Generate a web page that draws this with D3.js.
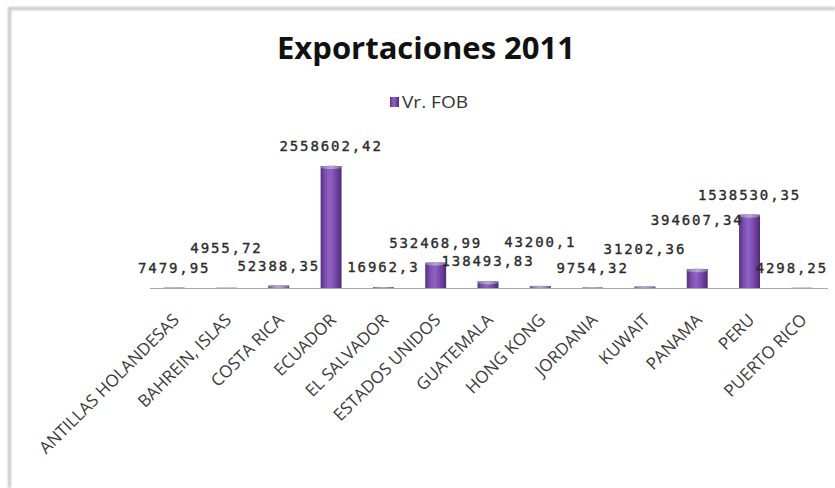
<!DOCTYPE html>
<html>
<head>
<meta charset="utf-8">
<script src="https://cdn.jsdelivr.net/npm/d3@7/dist/d3.min.js"></script>
<style>
  html, body { margin: 0; padding: 0; background: #ffffff; overflow: hidden; }
  svg { display: block; }
</style>
</head>
<body>
<svg id="chart" width="835" height="488"></svg>
<script>
// Export values (FOB) by destination country, 2011
const countries = [
  "ANTILLAS HOLANDESAS", "BAHREIN, ISLAS", "COSTA RICA", "ECUADOR",
  "EL SALVADOR", "ESTADOS UNIDOS", "GUATEMALA", "HONG KONG",
  "JORDANIA", "KUWAIT", "PANAMA", "PERU", "PUERTO RICO"
];
const fobValues = [
  7479.95, 4955.72, 52388.35, 2558602.42,
  16962.3, 532468.99, 138493.83, 43200.1,
  9754.32, 31202.36, 394607.34, 1538530.35, 4298.25
];
const valueLabels = [
  "7479,95", "4955,72", "52388,35", "2558602,42",
  "16962,3", "532468,99", "138493,83", "43200,1",
  "9754,32", "31202,36", "394607,34", "1538530,35", "4298,25"
];
const seriesName = "Vr. FOB";
const chartTitle = "Exportaciones 2011";
const yMax = 3000000;

// Labels that were moved by hand so they do not collide with neighbours
const labelLift = { "BAHREIN, ISLAS": 20, "HONG KONG": 24, "KUWAIT": 18, "PANAMA": 29 };
const labelShift = { "PUERTO RICO": -10 };

const svg = d3.select("#chart");
const defs = svg.append("defs");

// Soft frame edge along the top and left of the chart area
const blur = defs.append("filter").attr("id", "soft")
  .attr("filterUnits", "userSpaceOnUse")
  .attr("x", 0).attr("y", 0).attr("width", 835).attr("height", 488);
blur.append("feGaussianBlur").attr("stdDeviation", 1.1);

svg.append("path")
  .attr("d", "M9.5,488V8.5H835")
  .attr("fill", "none").attr("stroke", "#c6c6c6").attr("stroke-width", 3)
  .attr("filter", "url(#soft)");

// Cylinder-like shading for the columns
const grad = defs.append("linearGradient").attr("id", "barFill")
  .attr("x1", "0%").attr("x2", "100%").attr("y1", "0%").attr("y2", "0%");
[["0%", "#56307f"], ["22%", "#7c4fb0"], ["45%", "#9062c4"], ["70%", "#7848ab"], ["100%", "#4d2a76"]]
  .forEach(([o, c]) => grad.append("stop").attr("offset", o).attr("stop-color", c));

const capGrad = defs.append("linearGradient").attr("id", "capFill")
  .attr("x1", "0%").attr("x2", "100%");
[["0%", "#857aa0"], ["50%", "#b6a6d6"], ["100%", "#7b6f98"]]
  .forEach(([o, c]) => capGrad.append("stop").attr("offset", o).attr("stop-color", c));

const x = d3.scaleBand().domain(countries).range([148, 828]).paddingInner(0.6).paddingOuter(0.3);
const y = d3.scaleLinear().domain([0, yMax]).range([288, 145]);

const data = countries.map((c, i) => ({ country: c, value: fobValues[i], label: valueLabels[i] }));

// Title
svg.append("text")
  .attr("x", 426).attr("y", 59)
  .attr("text-anchor", "middle")
  .attr("font-family", "'Open Sans', sans-serif")
  .attr("font-weight", 700)
  .attr("font-size", 31)
  .attr("fill", "#111")
  .attr("textLength", 298).attr("lengthAdjust", "spacingAndGlyphs")
  .text(chartTitle);

// Legend
const legend = svg.append("g");
legend.append("rect")
  .attr("x", 390).attr("y", 97).attr("width", 9).attr("height", 10)
  .attr("fill", "url(#barFill)");
legend.append("text")
  .attr("x", 402).attr("y", 107.5)
  .attr("font-family", "'Open Sans', sans-serif")
  .attr("font-size", 16)
  .attr("fill", "#333")
  .attr("textLength", 66).attr("lengthAdjust", "spacingAndGlyphs")
  .text(seriesName);

// Category axis
const xAxis = svg.append("g").attr("transform", `translate(0,${y(0)})`)
  .call(d3.axisBottom(x).tickSize(0).tickSizeOuter(0).tickPadding(0));
xAxis.select(".domain").attr("stroke", "#a8a8a8").attr("stroke-width", 1.2)
  .attr("d", `M${x.range()[0] + 2},0.5H${x.range()[1]}`);
xAxis.selectAll(".tick text")
  .attr("font-family", "'Open Sans', sans-serif")
  .attr("font-size", 17)
  .attr("fill", "#3a3a3a")
  .attr("text-anchor", "end")
  .attr("dy", 0)
  .attr("y", 0)
  .attr("transform", "translate(6,33) rotate(-45)");

// Columns
const bars = svg.append("g");
bars.selectAll("rect.bar").data(data).join("rect")
  .attr("class", "bar")
  .attr("x", d => x(d.country))
  .attr("y", d => y(d.value))
  .attr("width", x.bandwidth())
  .attr("height", d => y(0) - y(d.value))
  .attr("fill", "url(#barFill)");
bars.selectAll("ellipse.cap").data(data).join("ellipse")
  .attr("class", "cap")
  .attr("cx", d => x(d.country) + x.bandwidth() / 2)
  .attr("cy", d => y(d.value) + Math.min(1.2, (y(0) - y(d.value)) / 2))
  .attr("rx", x.bandwidth() / 2)
  .attr("ry", d => Math.min(1.8, (y(0) - y(d.value)) * 0.6))
  .attr("fill", "url(#capFill)");

// Value labels
svg.append("g").selectAll("text").data(data).join("text")
  .attr("x", d => x(d.country) + x.bandwidth() / 2 + (labelShift[d.country] || 0))
  .attr("y", d => y(d.value) - 15 - (labelLift[d.country] || 0))
  .attr("text-anchor", "middle")
  .attr("font-family", "'DejaVu Sans Mono', monospace")
  .attr("font-size", 14)
  .attr("letter-spacing", 1.9)
  .attr("fill", "#2a2a2a")
  .attr("stroke", "#2a2a2a").attr("stroke-width", 0.35)
  .text(d => d.label);
</script>
</body>
</html>
